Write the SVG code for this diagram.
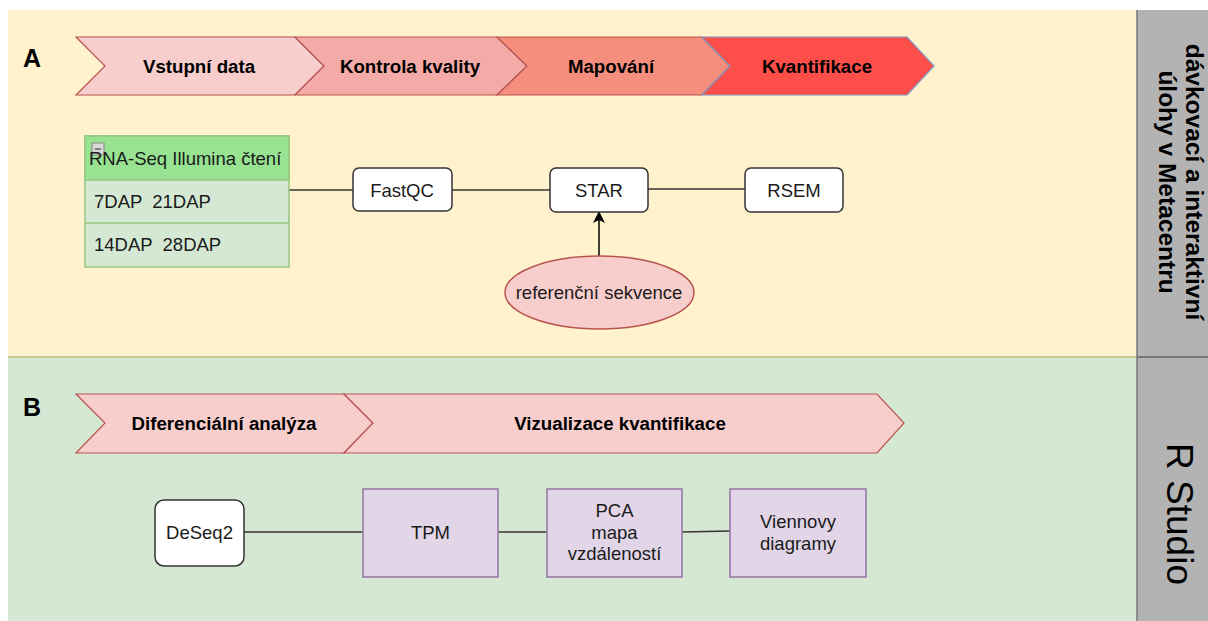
<svg xmlns="http://www.w3.org/2000/svg" width="1208" height="621" viewBox="0 0 1208 621">
<style>
text{font-family:"Liberation Sans",Arial,sans-serif;fill:#1a1a1a}
.n{font-size:18.5px}
.b{font-size:18.7px;font-weight:bold;fill:#000}
.lbl{font-size:25px;font-weight:bold;fill:#000}
.chev{stroke:#b85450;stroke-width:1.2}
.box{fill:#ffffff;stroke:#333333;stroke-width:1.5}
.pur{fill:#e1d5e7;stroke:#9673a6;stroke-width:1.5}
.con{stroke:#333333;stroke-width:1.5;fill:none}
</style>
<defs>
<marker id="arr" markerWidth="12" markerHeight="12" refX="10" refY="6" orient="auto" markerUnits="userSpaceOnUse">
<path d="M0,0 L12,6 L0,12 L3,6 Z" fill="#000"/>
</marker>
</defs>
<rect x="0" y="0" width="1208" height="621" fill="#ffffff"/>
<g id="panelA">
<rect x="8" y="10" width="1129" height="347" fill="#fff2cc"/>
</g>
<g id="panelB">
<rect x="8" y="357" width="1129" height="264" fill="#d5e8d4"/>
<line x1="8" y1="357" x2="1137" y2="357" stroke="#b9c27a" stroke-width="1.5"/>
</g>
<g id="sidebar">
<rect x="1137" y="10" width="71" height="611" fill="#b3b3b3"/>
<line x1="1137" y1="10" x2="1137" y2="621" stroke="#777" stroke-width="1.5"/>
<line x1="1137" y1="357" x2="1208" y2="357" stroke="#777" stroke-width="2"/>
<text transform="translate(1186,182) rotate(90)" text-anchor="middle" style="font-size:24.5px;font-weight:bold;fill:#000">dávkovací a interaktivní</text>
<text transform="translate(1159,182) rotate(90)" text-anchor="middle" style="font-size:24.5px;font-weight:bold;fill:#000">úlohy v Metacentru</text>
<text transform="translate(1167,514) rotate(90)" text-anchor="middle" style="font-size:37px;fill:#000">R Studio</text>
</g>
<text class="lbl" x="23" y="67">A</text>
<text class="lbl" x="23" y="416">B</text>
<g id="chevA1">
<path class="chev" d="M76,37 L295,37 L324,66 L295,95 L76,95 L105,66 Z" fill="#f8cecc"/>
<text class="b" x="199" y="73" text-anchor="middle">Vstupní data</text>
</g>
<g id="chevA2">
<path class="chev" d="M295,37 L497,37 L527,66 L497,95 L295,95 L324,66 Z" fill="#f4aaa6"/>
<text class="b" x="410" y="73" text-anchor="middle">Kontrola kvality</text>
</g>
<g id="chevA3">
<path class="chev" d="M497,37 L702,37 L730,66 L702,95 L497,95 L527,66 Z" fill="#f58e7d"/>
<text class="b" x="611" y="73" text-anchor="middle">Mapování</text>
</g>
<g id="chevA4">
<path d="M702,37 L907,37 L934,66 L907,95 L702,95 L730,66 Z" fill="#fe4e49" stroke="#7e96c0" stroke-width="1.2"/>
<text class="b" x="817" y="73" text-anchor="middle">Kvantifikace</text>
</g>
<g id="chevB1">
<path class="chev" d="M76,394 L344,394 L373,423 L344,453 L76,453 L105,423 Z" fill="#f8cecc"/>
<text class="b" x="224" y="430" text-anchor="middle">Diferenciální analýza</text>
</g>
<g id="chevB2">
<path class="chev" d="M344,394 L877,394 L904,423 L877,453 L344,453 L373,423 Z" fill="#f8cecc"/>
<text class="b" x="620" y="430" text-anchor="middle">Vizualizace kvantifikace</text>
</g>
<g id="connectors">
<line class="con" x1="289" y1="190" x2="353" y2="190"/>
<line class="con" x1="452" y1="190" x2="550" y2="190"/>
<line class="con" x1="648" y1="189" x2="745" y2="189"/>
<line x1="599" y1="256" x2="599" y2="213" stroke="#000" stroke-width="1.5" marker-end="url(#arr)"/>
<line class="con" x1="244" y1="532" x2="363" y2="532"/>
<line class="con" x1="498" y1="532" x2="547" y2="532"/>
<line class="con" x1="682" y1="532" x2="730" y2="531"/>
</g>
<g id="rnaseq">
<rect x="85" y="136" width="204" height="131" fill="#d5e8d4" stroke="#97c77f" stroke-width="1.5"/>
<rect x="85" y="136" width="204" height="44" fill="#97e391" stroke="#97c77f" stroke-width="1.5"/>
<line x1="85" y1="223" x2="289" y2="223" stroke="#97c77f" stroke-width="1.5"/>
<rect x="92" y="143" width="12" height="12" fill="#d8d8d8" stroke="#888" stroke-width="1"/>
<line x1="95" y1="149" x2="101" y2="149" stroke="#444" stroke-width="1.2"/>
<text class="n" x="89" y="165">RNA-Seq Illumina čtení</text>
<text class="n" x="94" y="208" xml:space="preserve">7DAP  21DAP</text>
<text class="n" x="94" y="251" xml:space="preserve">14DAP  28DAP</text>
</g>
<g id="fastqc">
<rect class="box" x="353" y="168" width="99" height="43" rx="6"/>
<text class="n" x="402" y="197" text-anchor="middle">FastQC</text>
</g>
<g id="star">
<rect class="box" x="550" y="168" width="98" height="44" rx="6"/>
<text class="n" x="599" y="197" text-anchor="middle">STAR</text>
</g>
<g id="rsem">
<rect class="box" x="745" y="168" width="98" height="44" rx="6"/>
<text class="n" x="794" y="197" text-anchor="middle">RSEM</text>
</g>
<g id="refseq">
<ellipse cx="599.5" cy="292.5" rx="94.5" ry="36.5" fill="#f8cecc" stroke="#b85450" stroke-width="1.5"/>
<text class="n" x="599" y="299" text-anchor="middle">referenční sekvence</text>
</g>
<g id="deseq2">
<rect class="box" x="155" y="500" width="89" height="66" rx="9"/>
<text class="n" x="199.5" y="539" text-anchor="middle">DeSeq2</text>
</g>
<g id="tpm">
<rect class="pur" x="363" y="489" width="135" height="88"/>
<text class="n" x="430.5" y="539" text-anchor="middle">TPM</text>
</g>
<g id="pca">
<rect class="pur" x="547" y="489" width="135" height="88"/>
<text class="n" x="614.5" y="517" text-anchor="middle">PCA</text>
<text class="n" x="614.5" y="539" text-anchor="middle">mapa</text>
<text class="n" x="614.5" y="560" text-anchor="middle">vzdáleností</text>
</g>
<g id="venn">
<rect class="pur" x="730" y="489" width="136" height="88"/>
<text class="n" x="798" y="528" text-anchor="middle">Viennovy</text>
<text class="n" x="798" y="550" text-anchor="middle">diagramy</text>
</g>
</svg>
